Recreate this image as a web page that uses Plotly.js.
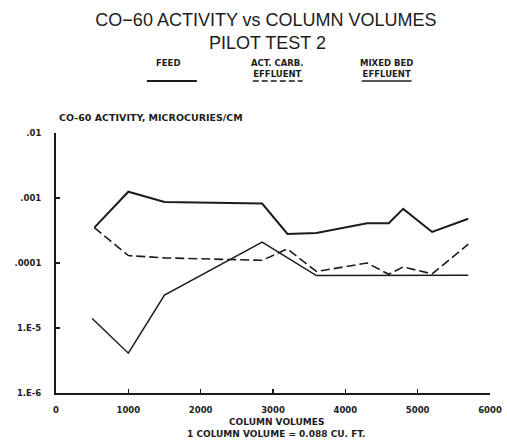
<!DOCTYPE html>
<html>
<head>
<meta charset="utf-8">
<script src="https://cdn.plot.ly/plotly-3.0.1.min.js"></script>
<style>html,body{margin:0;padding:0;background:#fff;}#chart{width:507px;height:442px;}</style>
</head>
<body>
<div id="chart"></div>
<script>
// Data
const feedX  = [530, 1000, 1500, 2850, 3200, 3600, 4300, 4600, 4800, 5200, 5700];
const feedY  = [3.5e-4, 1.25e-3, 8.7e-4, 8.2e-4, 2.8e-4, 2.9e-4, 4.1e-4, 4.1e-4, 6.8e-4, 3.0e-4, 4.8e-4];

const carbX  = [530, 1000, 1500, 2850, 3200, 3600, 4300, 4600, 4800, 5200, 5700];
const carbY  = [3.5e-4, 1.3e-4, 1.2e-4, 1.1e-4, 1.65e-4, 7.4e-5, 1.0e-4, 6.7e-5, 8.7e-5, 6.8e-5, 1.95e-4];

const mixedX = [500, 1000, 1500, 2850, 3600, 4600, 5200, 5700];
const mixedY = [1.4e-5, 4.1e-6, 3.2e-5, 2.1e-4, 6.4e-5, 6.5e-5, 6.4e-5, 6.5e-5];

const xTickVals = [0, 1000, 2000, 3000, 4000, 5000, 6000];
const xTickText = ['0', '1000', '2000', '3000', '4000', '5000', '6000'];
const yTickVals = [1e-6, 1e-5, 1e-4, 1e-3, 1e-2];
const yTickText = ['1.E-6', '1.E-5', '.0001', '.001', '.01'];

const seriesNames = ['FEED', 'ACT. CARB.<br>EFFLUENT', 'MIXED BED<br>EFFLUENT'];

const ink = '#1c1c1c';
const smallFont = {family: 'DejaVu Sans, Liberation Sans, sans-serif', size: 8.5, color: ink, weight: 'bold'};

const traces = [
  {x: feedX, y: feedY, mode: 'lines', name: 'FEED', line: {color: ink, width: 2}},
  {x: carbX, y: carbY, mode: 'lines', name: 'ACT. CARB. EFFLUENT', line: {color: ink, width: 1.6, dash: '9px,4px'}},
  {x: mixedX, y: mixedY, mode: 'lines', name: 'MIXED BED EFFLUENT', line: {color: ink, width: 1.5}}
];

// pixel -> paper helpers (plot area: left 56, top 133, width 434.5, height 260)
const L = 56, T = 133, W = 434.5, H = 260;
const px = v => (v - L) / W;
const py = v => (T + H - v) / H;

const legendItems = [
  {cx: 168, x0: 147, x1: 197, dash: 'solid', width: 2},
  {cx: 278, x0: 253, x1: 303, dash: '6px,3px', width: 1.6},
  {cx: 387, x0: 362, x1: 412, dash: 'solid', width: 1.4}
];

const annotations = [];
const shapes = [];
legendItems.forEach((it, i) => {
  annotations.push({xref: 'paper', yref: 'paper', x: px(it.cx), y: py(56), xanchor: 'center', yanchor: 'top',
    text: seriesNames[i], showarrow: false, font: {...smallFont, size: 8.5}, align: 'center'});
  shapes.push({type: 'line', xref: 'paper', yref: 'paper', x0: px(it.x0), x1: px(it.x1), y0: py(81), y1: py(81),
    line: {color: ink, width: it.width, dash: it.dash}});
});
annotations.push({xref: 'paper', yref: 'paper', x: px(268), y: py(43), xanchor: 'center', yanchor: 'middle',
  text: 'PILOT TEST 2', showarrow: false,
  font: {family: 'Liberation Sans, Arial, sans-serif', size: 18, color: ink}});
annotations.push({xref: 'paper', yref: 'paper', x: px(57), y: py(117), xanchor: 'left', yanchor: 'middle',
  text: 'CO-60 ACTIVITY, MICROCURIES/CM', showarrow: false, font: {...smallFont, size: 9.5}});
annotations.push({xref: 'paper', yref: 'paper', x: px(277), y: py(422), xanchor: 'center', yanchor: 'middle',
  text: 'COLUMN VOLUMES', showarrow: false, font: {...smallFont, size: 9}});
annotations.push({xref: 'paper', yref: 'paper', x: px(277), y: py(434), xanchor: 'center', yanchor: 'middle',
  text: '1 COLUMN VOLUME = 0.088 CU. FT.', showarrow: false, font: {...smallFont, size: 9}});

const layout = {
  width: 507, height: 442,
  margin: {l: L, r: 507 - L - W, t: T, b: 442 - T - H},
  paper_bgcolor: '#ffffff', plot_bgcolor: '#ffffff',
  showlegend: false,
  title: {
    text: 'CO\u221260 ACTIVITY vs COLUMN VOLUMES',
    x: 266 / 507, xref: 'container', xanchor: 'center',
    y: 1 - 20 / 442, yref: 'container', yanchor: 'middle',
    font: {family: 'Liberation Sans, Arial, sans-serif', size: 18, color: ink}
  },
  xaxis: {
    range: [0, 6000], tickvals: xTickVals, ticktext: xTickText,
    showgrid: false, zeroline: false, showline: true, linecolor: ink, linewidth: 2,
    ticks: 'inside', ticklen: 4, tickwidth: 1.2, tickcolor: ink,
    tickfont: smallFont, ticklabelstandoff: 8
  },
  yaxis: {
    type: 'log', range: [-6, -2], tickvals: yTickVals, ticktext: yTickText,
    showgrid: false, zeroline: false, showline: true, linecolor: ink, linewidth: 2,
    ticks: 'inside', ticklen: 4, tickwidth: 1.2, tickcolor: ink,
    tickfont: smallFont, ticklabelstandoff: 11
  },
  annotations: annotations,
  shapes: shapes
};

Plotly.newPlot('chart', traces, layout, {staticPlot: true, displayModeBar: false});
</script>
</body>
</html>
